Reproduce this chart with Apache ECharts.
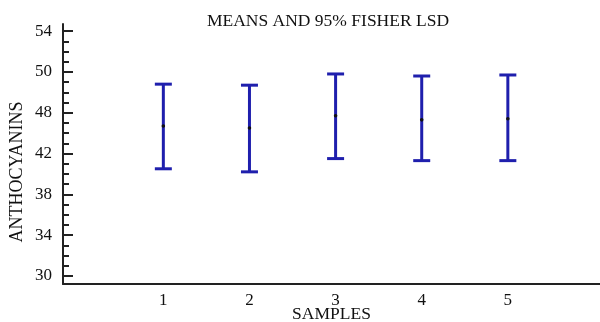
<!DOCTYPE html>
<html><head><meta charset="utf-8">
<script src="https://cdn.jsdelivr.net/npm/echarts@6/dist/echarts.min.js"></script>
<style>html,body{margin:0;padding:0;background:#fff}#c{width:600px;height:322px}</style>
</head><body><div id="c"></div>
<script>
var samples = [1, 2, 3, 4, 5];
var means = [44.7, 44.5, 45.7, 45.3, 45.4];
var lower = [40.5, 40.2, 41.5, 41.3, 41.3];
var upper = [48.8, 48.7, 49.8, 49.6, 49.7];
var yTickValues = [30, 34, 38, 42, 46, 50, 54];
var yTickLabels = ['30', '34', '38', '42', '48', '50', '54'];
var xTickLabels = ['1', '2', '3', '4', '5'];
var title = 'MEANS AND 95% FISHER LSD';
var yName = 'ANTHOCYANINS';
var xName = 'SAMPLES';

var minorTicks = [];
for (var v = 30; v <= 54; v += 1) {
  if (yTickValues.indexOf(v) < 0) minorTicks.push(v);
}

var FONT = 'Liberation Serif';
var BLUE = '#1f1fad';
var Y_MIN = 29.2, Y_MAX = 54.7;

var chart = echarts.init(document.getElementById('c'), null, {renderer: 'canvas'});
var data = samples.map(function (s, i) { return [s, lower[i], means[i], upper[i]]; });

chart.setOption({
  backgroundColor: '#fff',
  animation: false,
  title: {
    text: title, left: 323, textAlign: 'center', top: 7,
    textStyle: {fontFamily: FONT, fontWeight: 'normal', fontSize: 17.5, color: '#111'}
  },
  graphic: [{
    type: 'text', x: 17, y: 172, rotation: Math.PI / 2,
    style: {text: yName, font: '18px "Liberation Serif"', fill: '#111', align: 'center', verticalAlign: 'middle'}
  }],
  grid: {left: 63, right: 0, top: 24, bottom: 38, containLabel: false, outerBoundsMode: 'none'},
  xAxis: {
    type: 'value', min: -0.165, max: 6.07,
    axisLine: {show: true, onZero: false, lineStyle: {color: '#222', width: 2}},
    axisTick: {show: false},
    splitLine: {show: false},
    axisLabel: {
      customValues: samples,
      formatter: function (v) { var i = samples.indexOf(v); return i >= 0 ? xTickLabels[i] : ''; },
      fontFamily: FONT, fontSize: 17, color: '#111', margin: 8
    },
    name: xName, nameLocation: 'middle', nameGap: 21, nameMoveOverlap: false,
    nameTextStyle: {fontFamily: FONT, fontSize: 17.5, color: '#111'}
  },
  yAxis: [{
    type: 'value', min: Y_MIN, max: Y_MAX, position: 'left',
    axisLine: {show: true, onZero: false, lineStyle: {color: '#222', width: 2}},
    axisTick: {show: true, inside: true, length: 10, customValues: yTickValues, lineStyle: {color: '#222', width: 2}},
    splitLine: {show: false},
    axisLabel: {
      customValues: yTickValues,
      formatter: function (v) { var i = yTickValues.indexOf(v); return i >= 0 ? yTickLabels[i] : ''; },
      fontFamily: FONT, fontSize: 17, color: '#111', margin: 11
    }
  }, {
    type: 'value', min: Y_MIN, max: Y_MAX, position: 'left', offset: 0,
    axisLine: {show: false, onZero: false},
    axisTick: {show: true, inside: true, length: 6, customValues: minorTicks, lineStyle: {color: '#222', width: 2}},
    axisLabel: {show: false},
    splitLine: {show: false}
  }],
  series: [{
    type: 'custom',
    data: data,
    encode: {x: 0, y: [1, 2, 3]},
    renderItem: function (params, api) {
      var x = api.value(0);
      var lo = api.coord([x, api.value(1)]);
      var mid = api.coord([x, api.value(2)]);
      var hi = api.coord([x, api.value(3)]);
      var hw = 8.5;
      var st = {stroke: BLUE, lineWidth: 3, fill: null};
      return {
        type: 'group',
        children: [
          {type: 'line', shape: {x1: lo[0], y1: lo[1], x2: hi[0], y2: hi[1]}, style: st},
          {type: 'line', shape: {x1: hi[0] - hw, y1: hi[1], x2: hi[0] + hw, y2: hi[1]}, style: st},
          {type: 'line', shape: {x1: lo[0] - hw, y1: lo[1], x2: lo[0] + hw, y2: lo[1]}, style: st},
          {type: 'circle', shape: {cx: mid[0], cy: mid[1], r: 1.8}, style: {fill: '#111'}}
        ]
      };
    }
  }]
});
</script>
</body></html>
